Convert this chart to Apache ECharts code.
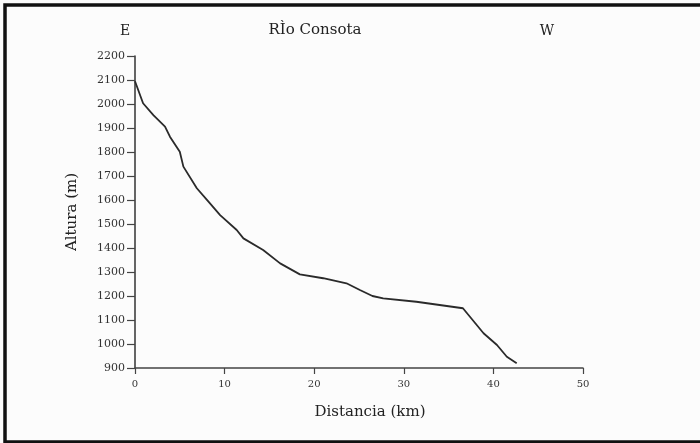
<!DOCTYPE html>
<html>
<head>
<meta charset="utf-8">
<script src="https://cdn.jsdelivr.net/npm/echarts@6/dist/echarts.min.js"></script>
<style>
  html, body { margin: 0; padding: 0; background: #fcfcfc; }
  #chart { width: 700px; height: 443px; }
</style>
</head>
<body>
<div id="chart"></div>
<script>
// perfil longitudinal
const distancia = [0, 0.9, 2.05, 3.35, 3.9, 5.0, 5.4, 6.9, 8.2, 9.5, 11.35, 12.1, 14.3, 16.2, 18.4, 21.0, 23.6, 25.1, 26.5, 27.7, 31.4, 36.6, 38.9, 40.4, 41.5, 42.6]
const altura = [2095, 2003, 1954, 1906, 1864, 1801, 1739, 1649, 1593, 1537, 1475, 1440, 1392, 1336, 1290, 1274, 1253, 1225, 1200, 1190, 1176, 1149, 1045, 996, 947, 920]
const titulo = 'RÌo Consota'
const etiquetas = ['E', 'W']

const serif = 'DejaVu Serif'
const chart = echarts.init(document.getElementById('chart'))

const option = {
  backgroundColor: '#fcfcfc',
  animation: false,
  grid: {
    left: 135,
    right: 117,
    top: 56,
    bottom: 75
  },
  graphic: [
    {
      type: 'rect',
      shape: { x: 5, y: 5, width: 710, height: 437 },
      style: { fill: 'none', stroke: '#111', lineWidth: 3.5 },
      silent: true
    },
    {
      type: 'text',
      x: 315,
      y: 23,
      style: { text: titulo, font: '15px "' + serif + '"', fill: '#222', align: 'center' }
    },
    {
      type: 'text',
      x: 125,
      y: 24,
      style: { text: etiquetas[0], font: '14px "' + serif + '"', fill: '#222', align: 'center' }
    },
    {
      type: 'text',
      x: 547,
      y: 24,
      style: { text: etiquetas[1], font: '14px "' + serif + '"', fill: '#222', align: 'center' }
    }
  ],
  xAxis: {
    type: 'value',
    min: 0,
    max: 50,
    interval: 10,
    name: 'Distancia (km)',
    nameLocation: 'middle',
    nameGap: 37,
    nameTextStyle: {
      fontFamily: serif,
      fontSize: 15,
      color: '#222',
      padding: [0, 0, 0, 22]
    },
    axisLine: { onZero: false, lineStyle: { color: '#444', width: 1.5 } },
    axisTick: { length: 6, lineStyle: { color: '#444', width: 1.2 } },
    axisLabel: { fontFamily: serif, fontSize: 10, color: '#333', margin: 11 },
    splitLine: { show: false }
  },
  yAxis: {
    type: 'value',
    min: 900,
    max: 2200,
    interval: 100,
    name: 'Altura (m)',
    nameLocation: 'middle',
    nameRotate: 90,
    nameGap: 55,
    nameTextStyle: { fontFamily: serif, fontSize: 15, color: '#222' },
    axisLine: { show: true, onZero: false, lineStyle: { color: '#333', width: 1.5 } },
    axisTick: { show: true, length: 8, lineStyle: { color: '#444', width: 1.2 } },
    axisLabel: {
      fontFamily: serif,
      fontSize: 11,
      color: '#333',
      margin: 10,
      formatter: (v) => String(v)
    },
    splitLine: { show: false }
  },
  series: [
    {
      name: 'Perfil',
      type: 'line',
      data: distancia.map((d, i) => [d, altura[i]]),
      symbol: 'none',
      smooth: false,
      lineStyle: { color: '#2a2a2a', width: 1.8 }
    }
  ]
}

chart.setOption(option)
</script>
</body>
</html>
